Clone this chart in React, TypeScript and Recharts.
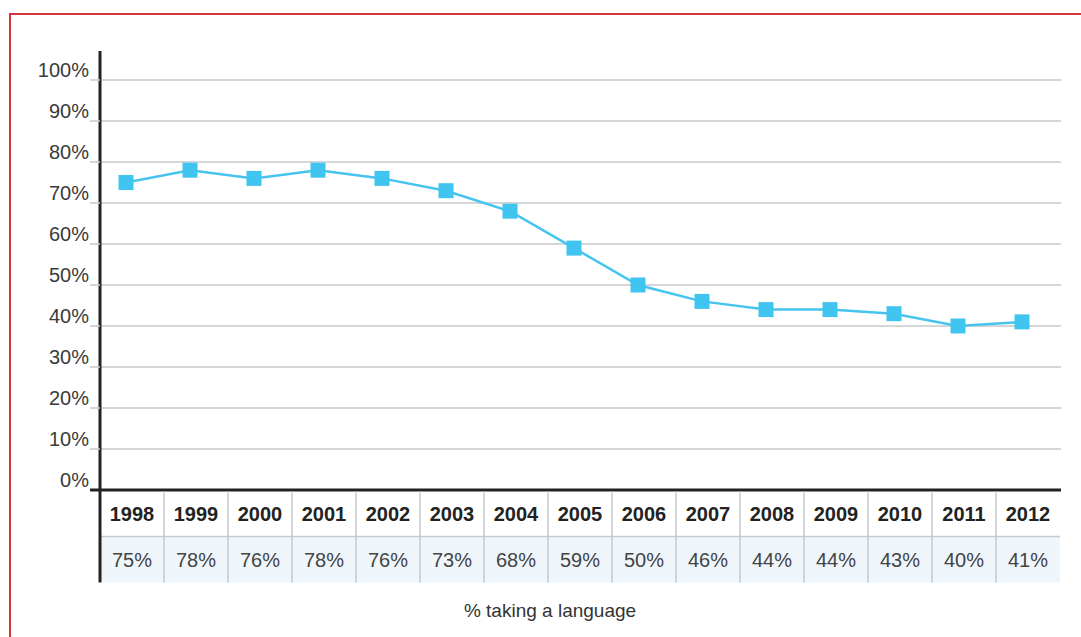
import React from 'react';
import { LineChart, Line, XAxis, YAxis, CartesianGrid } from 'recharts';

const years = ['1998', '1999', '2000', '2001', '2002', '2003', '2004', '2005', '2006', '2007', '2008', '2009', '2010', '2011', '2012'];
const shares = [75, 78, 76, 78, 76, 73, 68, 59, 50, 46, 44, 44, 43, 40, 41];
const yTicks = [0, 10, 20, 30, 40, 50, 60, 70, 80, 90, 100];

const data = years.map((year, i) => ({ year, share: shares[i] }));

const FONT = '"Liberation Sans", Arial, sans-serif';
const LINE_BLUE = '#45c4ef';
const GRID = '#c9c9cc';
const COL_W = 64;
const COL_OFFSET = 26;

const SquareDot = (props: any) => {
  const { cx, cy } = props;
  if (cx == null || cy == null) return null;
  return <rect x={cx - 7.5} y={cy - 7.5} width={15} height={15} fill="#40c4f0" />;
};

const YTick = (props: any) => {
  const { y, payload } = props;
  const isZero = payload.value === 0;
  return (
    <g>
      <line
        x1={90}
        x2={100}
        y1={y}
        y2={y}
        stroke={isZero ? '#222' : GRID}
        strokeWidth={isZero ? 3 : 1.5}
      />
      <text x={89} y={y - 3} textAnchor="end" fontFamily={FONT} fontSize={20} fill="#3a3a3a">
        {payload.value}%
      </text>
    </g>
  );
};

const TableTick = (props: any) => {
  const { x, y, payload, index } = props;
  const left = x - COL_OFFSET;
  const top = y + 1.5;
  const cx = left + COL_W / 2;
  return (
    <g>
      <rect x={left} y={top + 45} width={COL_W} height={46} fill="#eef6fb" />
      <line x1={left} x2={left + COL_W} y1={top + 45} y2={top + 45} stroke={GRID} strokeWidth={1.5} />
      {index > 0 && (
        <line x1={left} x2={left} y1={top} y2={top + 91} stroke={GRID} strokeWidth={1.5} />
      )}
      {index === 0 && (
        <line x1={left} x2={left} y1={top - 2} y2={top + 91} stroke="#222" strokeWidth={3} />
      )}
      <text x={cx} y={top + 29} textAnchor="middle" fontFamily={FONT} fontWeight="bold" fontSize={20} fill="#222">
        {payload.value}
      </text>
      <text x={cx} y={top + 75} textAnchor="middle" fontFamily={FONT} fontSize={20} fill="#444">
        {shares[index]}%
      </text>
    </g>
  );
};

const TitleLabel = () => (
  <text x={550} y={617} textAnchor="middle" fontFamily={FONT} fontSize={19} fill="#333">
    % taking a language
  </text>
);

export default function App() {
  return (
    <div
      style={{
        position: 'absolute',
        left: 0,
        top: 0,
        width: 1081,
        height: 637,
        overflow: 'hidden',
        background: '#fff',
      }}
    >
      <div
        style={{
          position: 'absolute',
          left: 9,
          top: 13,
          width: 1200,
          height: 800,
          borderTop: '2px solid #d6343c',
          borderLeft: '2px solid #d6343c',
        }}
      />
      <div style={{ position: 'absolute', left: 0, top: 0 }}>
        <LineChart width={1081} height={637} data={data} margin={{ top: 51, right: 20, left: 10, bottom: 0 }}>
          <CartesianGrid vertical={false} horizontalValues={yTicks} stroke={GRID} strokeWidth={1.5} />
          <YAxis
            type="number"
            domain={[0, 107.07]}
            ticks={yTicks}
            width={90}
            axisLine={{ stroke: '#222', strokeWidth: 3 }}
            tickLine={false}
            tick={<YTick />}
            allowDataOverflow
          />
          <XAxis
            dataKey="year"
            height={147}
            padding={{ left: COL_OFFSET, right: 39 }}
            axisLine={{ stroke: '#222', strokeWidth: 3 }}
            tickLine={false}
            tickSize={0}
            tickMargin={0}
            interval={0}
            tick={<TableTick />}
            label={<TitleLabel />}
          />
          <Line
            type="linear"
            dataKey="share"
            stroke={LINE_BLUE}
            strokeWidth={2.5}
            dot={<SquareDot />}
            activeDot={false}
            isAnimationActive={false}
          />
        </LineChart>
      </div>
    </div>
  );
}
